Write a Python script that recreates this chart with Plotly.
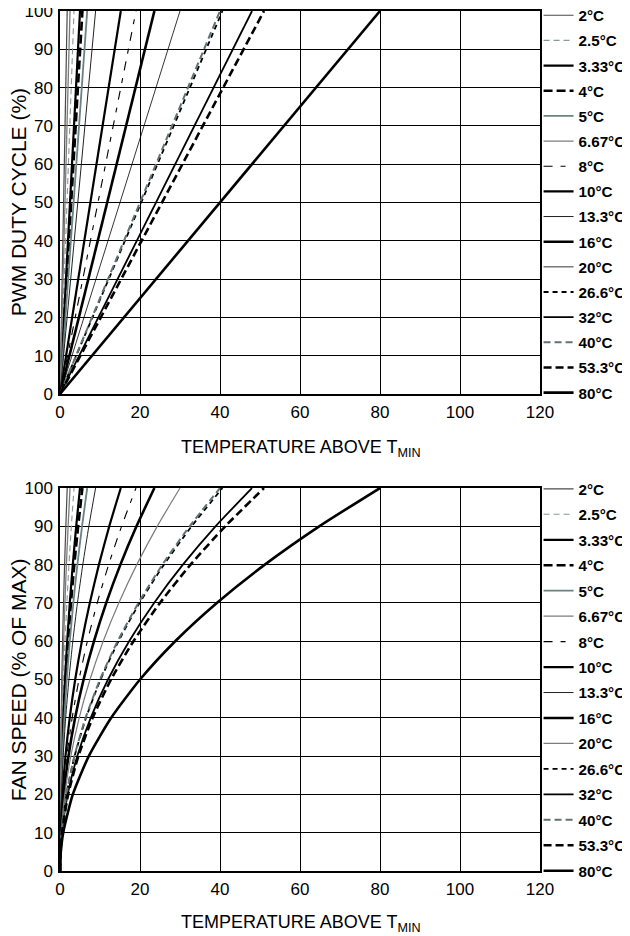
import plotly.graph_objects as go
from plotly.subplots import make_subplots

# legend labels (T_RANGE settings)
RANGE_LABELS = ["2°C", "2.5°C", "3.33°C", "4°C", "5°C", "6.67°C", "8°C", "10°C",
                "13.3°C", "16°C", "20°C", "26.6°C", "32°C", "40°C", "53.3°C", "80°C"]

# temperature above T_MIN where each line reaches 100 %
END_TEMPS = [1.8, 3.5, 5.0, 5.6, 6.8, 2.5, 19.0, 15.2, 8.9, 23.6, 30.0, 40.6, 48.0, 40.0, 51.0, 80.0]
PWM_LEVELS = [0, 100]

# fan speed chart: temperature at which each curve crosses these speed levels
FAN_LEVELS = [0, 2, 5, 10, 20, 30, 40, 50, 60, 70, 80, 90, 100]
FAN_TEMPS = [
    [0, 0.001, 0.005, 0.02, 0.07, 0.16, 0.29, 0.45, 0.65, 0.88, 1.15, 1.46, 1.8],
    [0, 0.001, 0.01, 0.04, 0.14, 0.32, 0.56, 0.88, 1.26, 1.72, 2.24, 2.84, 3.5],
    [0, 0.002, 0.013, 0.05, 0.2, 0.45, 0.8, 1.25, 1.8, 2.45, 3.2, 4.05, 5.0],
    [0, 0.002, 0.014, 0.06, 0.22, 0.5, 0.9, 1.4, 2.02, 2.74, 3.58, 4.54, 5.6],
    [0, 0.003, 0.02, 0.07, 0.27, 0.61, 1.09, 1.7, 2.45, 3.33, 4.35, 5.51, 6.8],
    [0, 0.001, 0.006, 0.025, 0.1, 0.23, 0.4, 0.63, 0.9, 1.23, 1.6, 2.03, 2.5],
    [0, 0.01, 0.05, 0.19, 0.76, 1.71, 3.04, 4.75, 6.84, 9.31, 12.16, 15.39, 19.0],
    [0, 0.01, 0.04, 0.15, 0.61, 1.37, 2.43, 3.8, 5.47, 7.45, 9.73, 12.31, 15.2],
    [0, 0.004, 0.02, 0.09, 0.36, 0.8, 1.42, 2.23, 3.2, 4.36, 5.7, 7.21, 8.9],
    [0, 0.01, 0.06, 0.24, 0.94, 2.12, 3.78, 5.9, 8.5, 11.56, 15.1, 19.12, 23.6],
    [0, 0.012, 0.075, 0.3, 1.2, 2.7, 4.8, 7.5, 10.8, 14.7, 19.2, 24.3, 30.0],
    [0, 0.02, 0.1, 0.41, 1.62, 3.65, 6.5, 10.15, 14.62, 19.89, 25.98, 32.89, 40.6],
    [0, 0.02, 0.12, 0.48, 1.92, 4.32, 7.68, 12.0, 17.28, 23.52, 30.72, 38.88, 48.0],
    [0, 0.016, 0.1, 0.4, 1.6, 3.6, 6.4, 10.0, 14.4, 19.6, 25.6, 32.4, 40.0],
    [0, 0.02, 0.13, 0.51, 2.04, 4.59, 8.16, 12.75, 18.36, 24.99, 32.64, 41.31, 51.0],
    [0, 0.032, 0.2, 0.8, 3.2, 7.2, 12.8, 20.0, 28.8, 39.2, 51.2, 64.8, 80.0],
]

X_TICKS = [0, 20, 40, 60, 80, 100, 120]
Y_TICKS = [0, 10, 20, 30, 40, 50, 60, 70, 80, 90, 100]

# line styles, one per legend entry
STYLES = [
    dict(color="#4a4a4a", width=1.2),
    dict(color="#8a9898", width=1.1, dash="6px,4px"),
    dict(color="black", width=2.2),
    dict(color="black", width=2.6, dash="9px,4px"),
    dict(color="#6a8282", width=1.8),
    dict(color="#7c7c7c", width=1.3),
    dict(color="black", width=1.1, dash="9px,8px,5px,8px"),
    dict(color="black", width=2.2),
    dict(color="#222222", width=1.0),
    dict(color="black", width=2.6),
    dict(color="black", width=0.8),
    dict(color="black", width=1.8, dash="5px,4px"),
    dict(color="black", width=1.8),
    dict(color="#5f7373", width=2.0, dash="7px,4px"),
    dict(color="black", width=2.6, dash="8px,4px"),
    dict(color="black", width=2.6),
]

FONT = "Liberation Sans, Arial, sans-serif"
TOP_DOMAIN = [0.5547, 1.0]
BOT_DOMAIN = [0.0, 0.4453]

fig = make_subplots(rows=2, cols=1)

for i, label in enumerate(RANGE_LABELS):
    fig.add_trace(go.Scatter(x=[0, END_TEMPS[i]], y=PWM_LEVELS, mode="lines",
                             name=label, line=STYLES[i], legend="legend",
                             legendgroup="pwm%d" % i, hoverinfo="skip"),
                  row=1, col=1)

for i, label in enumerate(RANGE_LABELS):
    style = dict(STYLES[i])
    if label == "20°C":
        style = dict(color="#7c7c7c", width=1.2)
    fig.add_trace(go.Scatter(x=FAN_TEMPS[i], y=FAN_LEVELS, mode="lines",
                             name=label, line=dict(style, shape="spline", smoothing=0.6),
                             legend="legend2", legendgroup="fan%d" % i, hoverinfo="skip"),
                  row=2, col=1)

axis_common = dict(showgrid=True, gridcolor="black", gridwidth=1,
                   showline=True, linecolor="black", linewidth=1.5, mirror=True,
                   zeroline=False, ticks="", automargin=False, ticklabeloverflow="allow",
                   tickfont=dict(family=FONT, size=17, color="black"))

fig.update_xaxes(range=[0, 120], tickvals=X_TICKS, domain=[0, 1],
                 ticklabelstandoff=2, **axis_common)
fig.update_yaxes(range=[0, 100], tickvals=Y_TICKS, ticklabelstandoff=2, **axis_common)
fig.update_layout(yaxis=dict(domain=TOP_DOMAIN), yaxis2=dict(domain=BOT_DOMAIN))

legend_common = dict(x=0.997, xanchor="left", yanchor="top", traceorder="grouped",
                     bgcolor="rgba(0,0,0,0)", itemwidth=30,
                     font=dict(family=FONT, size=15.2, color="black", weight="bold"))

# the page adds an 8px body margin, so the figure is 8px smaller than the window
fig.update_layout(
    width=622, height=928,
    margin=dict(l=52, r=90, t=3, b=65, autoexpand=False),
    plot_bgcolor="white", paper_bgcolor="white",
    showlegend=True,
    legend=dict(legend_common, y=1.0141, tracegroupgap=2.4),
    legend2=dict(legend_common, y=0.4634, tracegroupgap=2.7),
)

ytitle_font = dict(family=FONT, size=21, color="black")
xtitle_font = dict(family=FONT, size=18, color="black")
xtitle = "TEMPERATURE ABOVE T<sub>MIN</sub>"
for text, dom, shift in [("PWM DUTY CYCLE (%)", TOP_DOMAIN, -55),
                         ("FAN SPEED (% OF MAX)", BOT_DOMAIN, -52)]:
    fig.add_annotation(text=text, xref="paper", yref="paper", x=-0.086, y=sum(dom) / 2,
                       xanchor="center", yanchor="middle", textangle=-90,
                       showarrow=False, font=ytitle_font)
    fig.add_annotation(text=xtitle, xref="paper", yref="paper", x=0.5, y=dom[0],
                       xanchor="center", yanchor="middle", yshift=shift,
                       showarrow=False, font=xtitle_font)

fig.write_html("out.html")
